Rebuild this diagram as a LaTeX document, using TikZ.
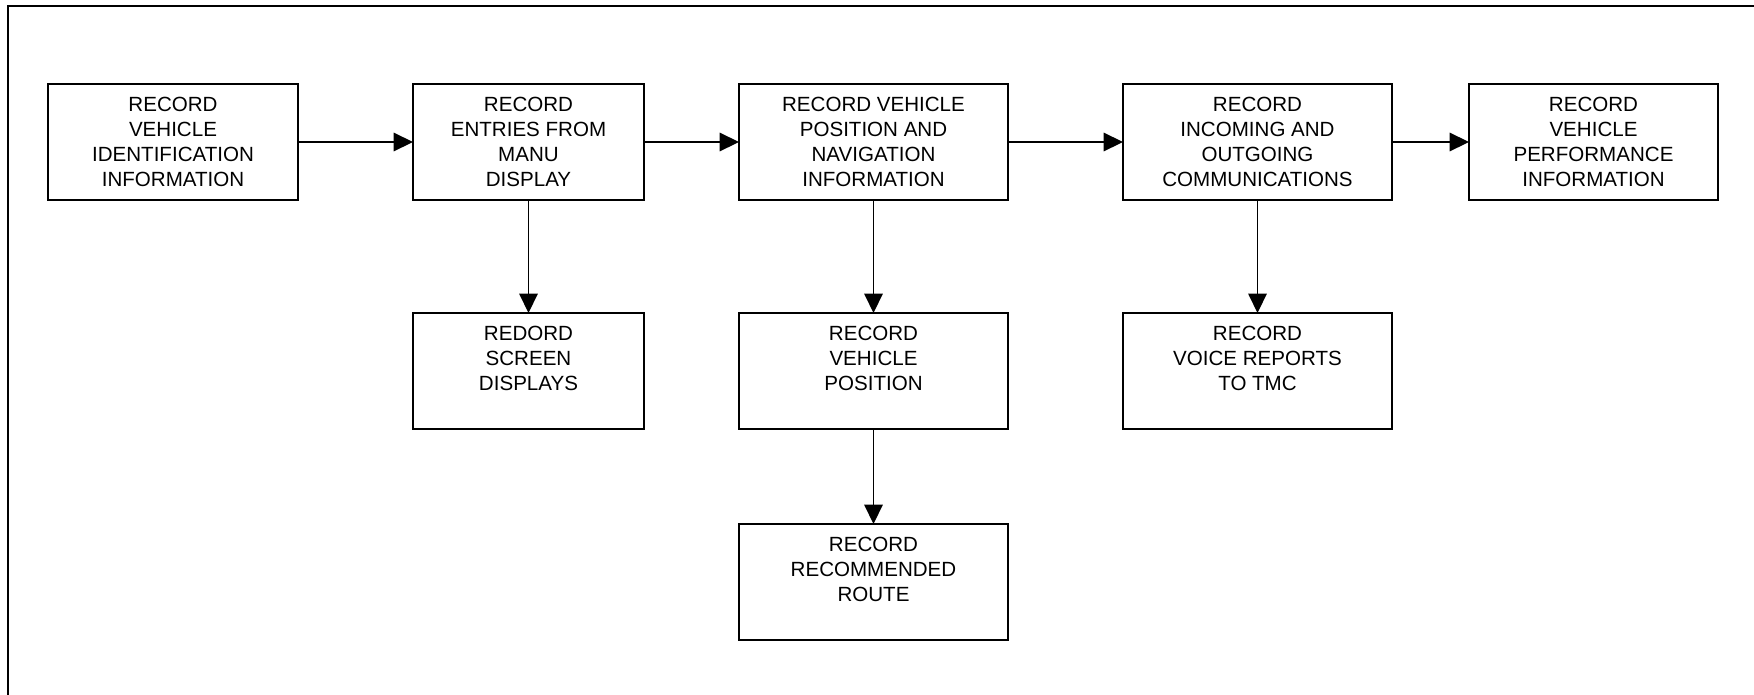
\documentclass[tikz,border=0pt]{standalone}
\usepackage{fontspec}
\setmainfont{Liberation Sans}
\usetikzlibrary{arrows.meta}

\begin{document}
\begin{tikzpicture}[x=0.02cm, y=-0.02cm,
  box/.style={draw, line width=0.8pt, align=center, inner sep=0pt, outer sep=0pt,
    minimum height=2.32cm, font=\fontsize{11.7}{14.2}\selectfont},
  flow/.style={line width=0.8pt, -{Triangle[length=11pt, width=10.5pt]}}]

% Page
\useasboundingbox (0,0) rectangle (1754,694);
\clip (0,0) rectangle (1754,694);
\draw[line width=0.8pt] (8,6) rectangle (1800,760);

% Top row
\node[box, minimum width=5cm] (vehid) at (173,142) {RECORD\\VEHICLE\\IDENTIFICATION\\INFORMATION};
\node[box, minimum width=4.62cm] (menu) at (528.5,142) {RECORD\\ENTRIES FROM\\MANU\\DISPLAY};
\node[box, minimum width=5.38cm] (posnav) at (873.5,142) {RECORD VEHICLE\\POSITION AND\\NAVIGATION\\INFORMATION};
\node[box, minimum width=5.38cm] (comms) at (1257.5,142) {RECORD\\INCOMING AND\\OUTGOING\\COMMUNICATIONS};
\node[box, minimum width=4.98cm] (perf) at (1593.5,142) {RECORD\\VEHICLE\\PERFORMANCE\\INFORMATION};

% Second row
\node[box, minimum width=4.62cm] (screen) at (528.5,371) {REDORD\\SCREEN\\DISPLAYS\\\mbox{}};
\node[box, minimum width=5.38cm] (pos) at (873.5,371) {RECORD\\VEHICLE\\POSITION\\\mbox{}};
\node[box, minimum width=5.38cm] (voice) at (1257.5,371) {RECORD\\VOICE REPORTS\\TO TMC\\\mbox{}};

% Third row
\node[box, minimum width=5.38cm] (route) at (873.5,582) {RECORD\\RECOMMENDED\\ROUTE\\\mbox{}};

% Arrows
\draw[flow] (vehid) -- (menu);
\draw[flow] (menu) -- (posnav);
\draw[flow] (posnav) -- (comms);
\draw[flow] (comms) -- (perf);
\draw[flow] (menu) -- (screen);
\draw[flow] (posnav) -- (pos);
\draw[flow] (comms) -- (voice);
\draw[flow] (pos) -- (route);

\end{tikzpicture}
\end{document}
